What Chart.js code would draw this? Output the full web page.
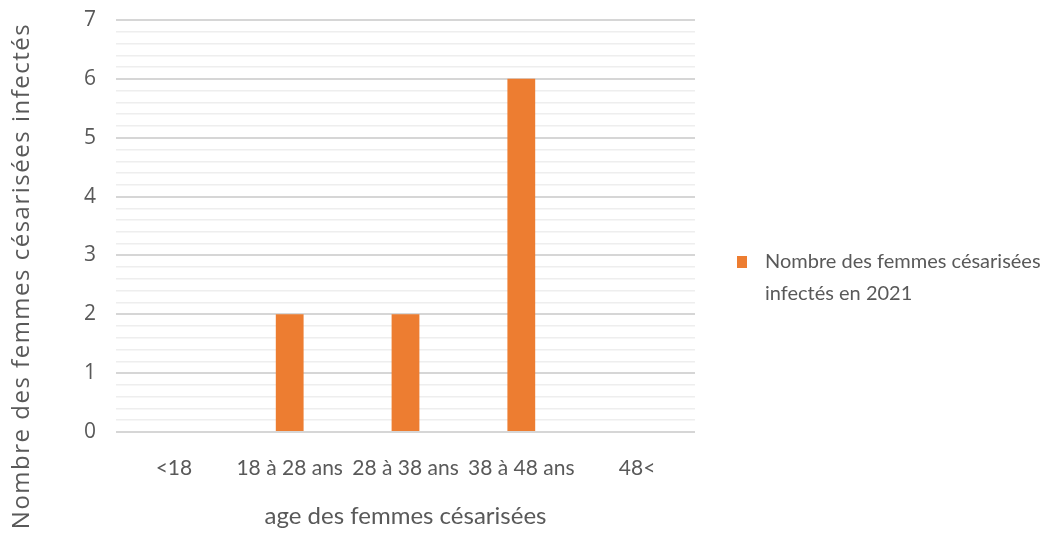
<!DOCTYPE html>
<html>
<head>
<meta charset="utf-8">
<script src="https://cdn.jsdelivr.net/npm/chart.js@4"></script>
<style>
  html, body { margin: 0; padding: 0; background: #fff; }
  #wrap { width: 1043px; height: 535px; }
</style>
</head>
<body>
<div id="wrap"><canvas id="chart" width="1043" height="535"></canvas></div>
<script>
// Data
const ageGroups = ['<18', '18 à 28 ans', '28 à 38 ans', '38 à 48 ans', '48<'];
const infectedCounts = [0, 2, 2, 6, 0];
const seriesLabel = ['Nombre des femmes césarisées', 'infectés en 2021'];
const xTitle = 'age des femmes césarisées';
const yTitle = 'Nombre des femmes césarisées infectés';

const textGray = '#595959';
const barColor = '#ED7D31';

// Legend + rotated y title drawn by hand (multi-line legend text)
const sideTexts = {
    id: 'sideTexts',
    afterDraw(chart) {
        const ctx = chart.ctx;
        ctx.save();
        // legend
        ctx.fillStyle = barColor;
        ctx.fillRect(737, 256, 10, 12);
        ctx.fillStyle = textGray;
        ctx.font = '20px Lato, sans-serif';
        ctx.textBaseline = 'middle';
        ctx.textAlign = 'left';
        ctx.fillText(seriesLabel[0], 765, 262);
        ctx.fillText(seriesLabel[1], 765, 294);
        // y title
        ctx.translate(22, 276);
        ctx.rotate(-Math.PI / 2);
        ctx.textAlign = 'center';
        ctx.font = '24px "Open Sans", sans-serif';
        ctx.letterSpacing = '1.5px';
        ctx.fillText(yTitle, 0, 0);
        ctx.restore();
    }
};

new Chart(document.getElementById('chart'), {
    type: 'bar',
    data: {
        labels: ageGroups,
        datasets: [{
            label: seriesLabel.join(' '),
            data: infectedCounts,
            backgroundColor: barColor,
            categoryPercentage: 1,
            barPercentage: 0.24,
        }],
    },
    plugins: [sideTexts],
    options: {
        responsive: false,
        animation: false,
        layout: { padding: { top: 20, right: 348, left: 0, bottom: 0 } },
        plugins: {
            legend: { display: false },
            tooltip: { enabled: false },
        },
        scales: {
            x: {
                grid: { display: false, drawTicks: false },
                border: { display: false },
                ticks: {
                    color: textGray,
                    font: { family: 'Lato, sans-serif', size: 21 },
                    padding: 24,
                    maxRotation: 0,
                },
                title: {
                    display: true,
                    text: xTitle,
                    color: textGray,
                    font: { family: 'Lato, sans-serif', size: 24 },
                    padding: { top: 14 },
                },
                afterFit: (scale) => { scale.height = 103; },
            },
            y: {
                min: 0,
                max: 7,
                border: { display: false },
                grid: {
                    drawTicks: false,
                    color: (c) => (Number.isInteger(Math.round(c.tick.value * 1000) / 1000) ? '#d6d6d6' : '#eeeeee'),
                    lineWidth: (c) => (Number.isInteger(Math.round(c.tick.value * 1000) / 1000) ? 2 : 1.5),
                },
                ticks: {
                    stepSize: 0.2,
                    autoSkip: false,
                    color: textGray,
                    font: { family: '"Open Sans", sans-serif', size: 21 },
                    padding: 20,
                    callback: (v) => {
                        const r = Math.round(v * 1000) / 1000;
                        return Number.isInteger(r) ? String(r) : '';
                    },
                },
                afterFit: (scale) => {
                    scale.width = 116;
                    scale.paddingTop = 0;
                    scale.paddingBottom = 0;
                },
            },
        },
    },
});
</script>
</body>
</html>
